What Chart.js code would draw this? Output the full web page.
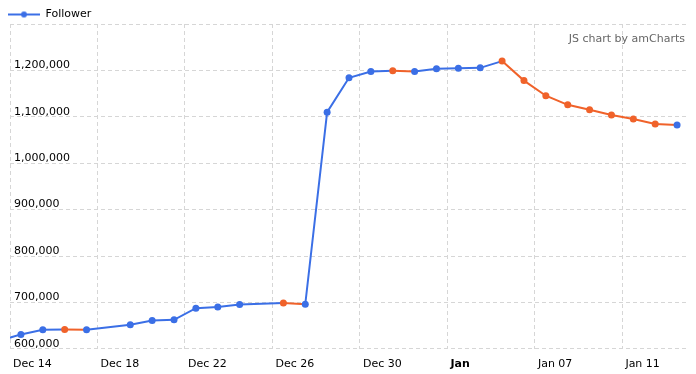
<!DOCTYPE html>
<html>
<head>
<meta charset="utf-8">
<script src="https://cdn.jsdelivr.net/npm/chart.js@4/dist/chart.umd.min.js"></script>
<style>
  body { margin: 0; background: #fff; }
  #wrap { width: 696px; height: 374px; position: relative; }
</style>
</head>
<body>
<div id="wrap"><canvas id="followerChart"></canvas></div>
<script>
// days with data (Dec 18 and Dec 25 have none)
const dates = [
  '2017-12-13', '2017-12-14', '2017-12-15', '2017-12-16', '2017-12-17',
  '2017-12-19', '2017-12-20', '2017-12-21', '2017-12-22', '2017-12-23',
  '2017-12-24', '2017-12-26', '2017-12-27', '2017-12-28', '2017-12-29',
  '2017-12-30', '2017-12-31', '2018-01-01', '2018-01-02', '2018-01-03',
  '2018-01-04', '2018-01-05', '2018-01-06', '2018-01-07', '2018-01-08',
  '2018-01-09', '2018-01-10', '2018-01-11', '2018-01-12', '2018-01-13'
];
const followers = [
  617000, 631000, 641000, 641500, 641000,
  652000, 661000, 662500, 687500, 690000,
  695500, 698500, 696000, 1110000, 1184000,
  1197400, 1199500, 1197500, 1203300, 1204800,
  1205500, 1220000, 1178000, 1145400, 1125800,
  1115000, 1104100, 1095400, 1084600, 1082400
];
const tickLabels = ['Dec 14', 'Dec 18', 'Dec 22', 'Dec 26', 'Dec 30', 'Jan', 'Jan 07', 'Jan 11'];

const BLUE = '#3b6fe6';
const ORANGE = '#f0622a';
const GRID = '#d6d6d6';
const FONT = 'DejaVu Sans, Verdana, sans-serif';

// x = days since Dec 14, point sits in the middle of its day
const start = Date.UTC(2017, 11, 14);
const points = dates.map((d, i) => {
  const [y, m, day] = d.split('-').map(Number);
  return { x: (Date.UTC(y, m - 1, day) - start) / 86400000 + 0.5, y: followers[i] };
});

// orange where the next value goes down
function goesDown(i) {
  return i + 1 < followers.length && followers[i + 1] < followers[i];
}

// legend marker: short line with a dot
const marker = document.createElement('canvas');
marker.width = 32;
marker.height = 8;
const mctx = marker.getContext('2d');
mctx.strokeStyle = BLUE;
mctx.lineWidth = 2;
mctx.beginPath();
mctx.moveTo(0, 4);
mctx.lineTo(32, 4);
mctx.stroke();
mctx.fillStyle = BLUE;
mctx.beginPath();
mctx.arc(16, 4, 3, 0, Math.PI * 2);
mctx.fill();

const watermark = {
  id: 'watermark',
  afterLayout(chart) {
    // nudge the legend row without moving the plot
    chart.legend.top += 6;
    chart.legend.bottom += 6;
    chart.legend.left += 3;
  },
  afterDraw(chart) {
    const c = chart.ctx;
    c.save();
    c.font = '11px ' + FONT;
    c.fillStyle = '#666';
    c.textAlign = 'right';
    c.textBaseline = 'middle';
    c.fillText('JS chart by amCharts', chart.chartArea.right - 3, 39);
    c.restore();
  }
};

const ctx = document.getElementById('followerChart').getContext('2d');
new Chart(ctx, {
  type: 'line',
  data: {
    datasets: [{
      label: 'Follower',
      data: points,
      borderColor: BLUE,
      borderWidth: 2,
      pointRadius: 3.5,
      pointBorderWidth: 0,
      pointBackgroundColor: c => goesDown(c.dataIndex) ? ORANGE : BLUE,
      tension: 0,
      segment: {
        borderColor: c => c.p1.parsed.y < c.p0.parsed.y ? ORANGE : BLUE
      }
    }]
  },
  options: {
    responsive: true,
    maintainAspectRatio: false,
    animation: false,
    layout: { padding: { left: 2, right: 8, top: 0, bottom: -6 } },
    plugins: {
      tooltip: { enabled: false },
      legend: {
        position: 'top',
        align: 'start',
        labels: {
          usePointStyle: true,
          pointStyle: marker,
          pointStyleWidth: 32,
          padding: 3,
          color: '#000',
          font: { family: FONT, size: 11 }
        }
      }
    },
    scales: {
      x: {
        type: 'linear',
        min: 0,
        max: 31,
        grid: { color: GRID, drawTicks: false },
        border: { display: false, dash: [4, 3] },
        ticks: {
          stepSize: 4,
          padding: 9,
          align: 'start',
          labelOffset: 3,
          maxRotation: 0,
          color: '#000',
          font: c => ({ family: FONT, size: 11, weight: tickLabels[c.index] === 'Jan' ? 'bold' : 'normal' }),
          callback: v => tickLabels[v / 4]
        }
      },
      y: {
        min: 600000,
        max: 1300000,
        grid: { color: GRID, drawTicks: false },
        border: { display: false, dash: [4, 3] },
        ticks: {
          stepSize: 100000,
          mirror: true,
          padding: 4,
          labelOffset: -5,
          color: '#000',
          font: { family: FONT, size: 11 },
          callback: v => v >= 1300000 ? '' : v.toLocaleString('en-US')
        }
      }
    }
  },
  plugins: [watermark]
});
</script>
</body>
</html>
